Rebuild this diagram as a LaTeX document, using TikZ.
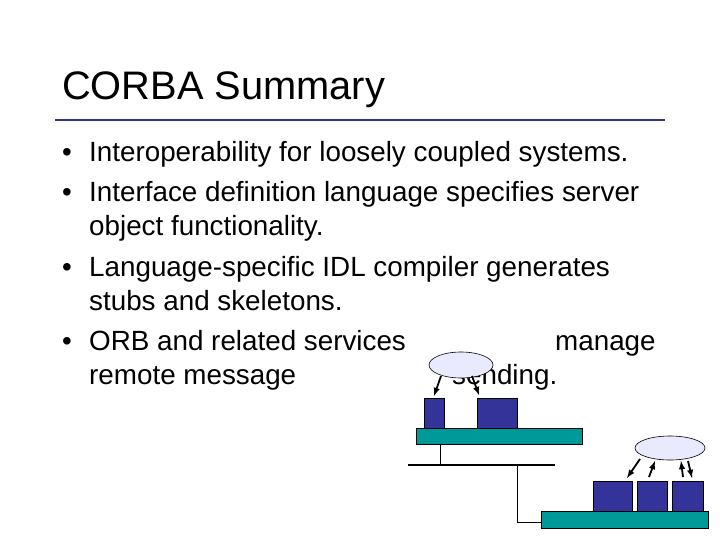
\documentclass[tikz,border=0pt]{standalone}
\usepackage{fontspec}
\setmainfont{Liberation Sans}
\usetikzlibrary{shapes.geometric}
\begin{document}
\begin{tikzpicture}[x=1pt,y=-1pt,
  body/.style={anchor=base west,inner sep=0pt,font=\fontsize{27.8}{32}\selectfont},
  blk/.style={draw=black,fill={rgb,255:red,51;green,51;blue,153},line width=0.6pt},
  bar/.style={draw=black,fill={rgb,255:red,0;green,153;blue,153},line width=0.6pt},
  orb/.style={draw=black,fill={rgb,255:red,234;green,234;blue,255},line width=0.6pt},
  arr/.style={-latex,line width=1.8pt}]
\useasboundingbox (0,0) rectangle (720,540);
\fill[white] (0,0) rectangle (720,540);
\node[anchor=base west,inner sep=0pt,font=\fontsize{39.8}{44}\selectfont] (title) at (62,100) {CORBA Summary};
\draw[line width=2pt,color={rgb,255:red,51;green,51;blue,128}] (55,120) -- (665,120);
\foreach \y in {162,202,276,350} \node[body] at (62,\y) {•};
\node[body] (l1) at (89,162) {Interoperability for loosely coupled systems.};
\node[body] (l2) at (89,202) {Interface definition language specifies server};
\node[body] (l3) at (89,236) {object functionality.};
\node[body] (l4) at (89,276) {Language-specific IDL compiler generates};
\node[body] (l5) at (89,310) {stubs and skeletons.};
\node[body] (l6) at (89,350) {ORB and related services};
\node[body] (l6b) at (555,350) {manage};
\node[body] (l7) at (89,384) {remote message};
\node[body] (l7b) at (452,384) {sending.};
% diagram left
\node[orb,ellipse,minimum width=64pt,minimum height=26pt,inner sep=0pt] (e1) at (461,365) {};
\node[blk,minimum width=20pt,minimum height=30pt,inner sep=0pt] (b1) at (434,413) {};
\node[blk,minimum width=40pt,minimum height=30pt,inner sep=0pt] (b2) at (497,413) {};
\node[bar,minimum width=166pt,minimum height=16pt,inner sep=0pt] (bar1) at (499,436) {};
\draw[arr] (441,376) -- (434,396);
\draw[arr] (472,376) -- (479,395);
\coordinate (n1) at (440,465);
\draw (440,444) -- (n1);
\draw[line width=2.5pt] (408,465) -- (555,465);
\coordinate (n2) at (517,465);
\coordinate (n3) at (541,522);
\draw (n2) |- (n3);
% diagram right
\node[bar,minimum width=167pt,minimum height=17pt,inner sep=0pt] (bar2) at (624.5,519.5) {};
\node[blk,minimum width=39pt,minimum height=30pt,inner sep=0pt] (b3) at (612.5,496) {};
\node[blk,minimum width=30pt,minimum height=30pt,inner sep=0pt] (b4) at (652,496) {};
\node[blk,minimum width=31pt,minimum height=30pt,inner sep=0pt] (b5) at (687.5,496) {};
\node[orb,ellipse,minimum width=70pt,minimum height=24pt,inner sep=0pt] (e2) at (670,448) {};
\draw[arr] (640,459) -- (627,478);
\draw[arr] (649,477) -- (655,461);
\draw[arr] (683,477) -- (681,461);
\draw[arr] (688,461) -- (692,478);
\end{tikzpicture}
\end{document}
